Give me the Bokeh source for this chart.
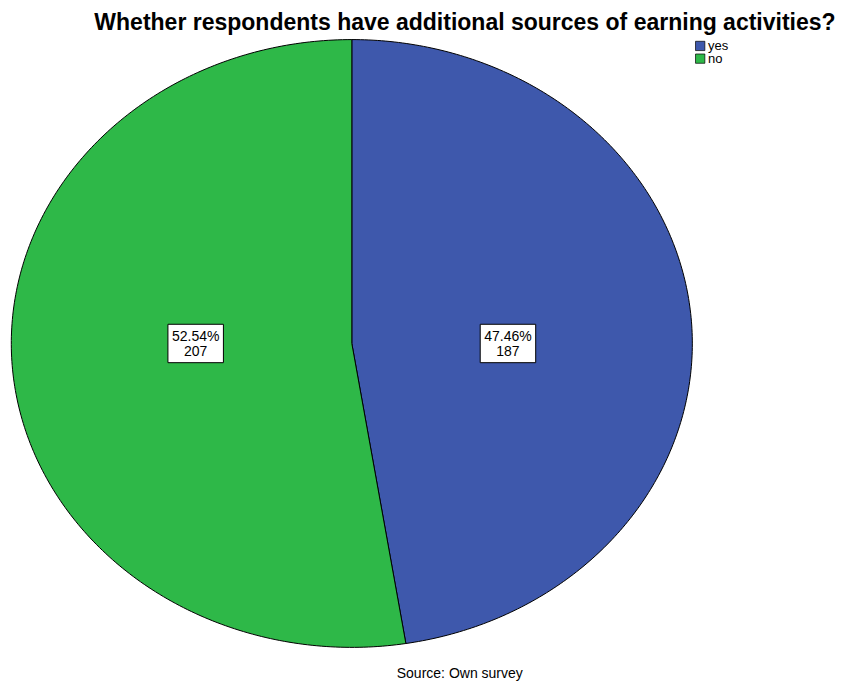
import numpy as np
from bokeh.plotting import figure
from bokeh.models import Range1d, ColumnDataSource, Label
from bokeh.core.properties import value
from bokeh.embed import file_html
from bokeh.resources import INLINE

# data
categories = ["yes", "no"]
counts = [187, 207]
percents = ["47.46%", "52.54%"]
colors = ["#3E58AC", "#2EB848"]
title_text = "Whether respondents have additional sources of earning activities?"
source_text = "Source: Own survey"

W, H = 841, 684
p = figure(width=W, height=H, output_backend="svg", toolbar_location=None,
           x_range=Range1d(0, 857), y_range=Range1d(700, 0),
           min_border=0, outline_line_color=None)
p.axis.visible = False
p.grid.visible = False
p.background_fill_color = "white"

cx, cy, rx, ry = 358, 351, 347, 311
total = sum(counts)
xs, ys, lx, ly, labels = [], [], [], [], []
start = 0.0
for c, pct in zip(counts, percents):
    end = start + 2 * np.pi * c / total
    t = np.linspace(start, end, 240)
    xs.append(np.concatenate([[cx], cx + rx * np.sin(t), [cx]]).tolist())
    ys.append(np.concatenate([[cy], cy - ry * np.cos(t), [cy]]).tolist())
    mid = (start + end) / 2
    lx.append(cx + 0.46 * rx * np.sin(mid))
    ly.append(cy)
    labels.append(f"{pct}\n{c}")
    start = end

src = ColumnDataSource(dict(xs=xs, ys=ys, color=colors))
p.patches("xs", "ys", source=src, fill_color="color", line_color="black", line_width=1)

lsrc = ColumnDataSource(dict(x=lx, y=ly, text=labels))
p.text("x", "y", text="text", source=lsrc,
       text_align="center", text_baseline="middle",
       text_font=value("Liberation Sans"), text_font_size="14px",
       text_line_height=0.9, text_color="black",
       background_fill_color="white", border_line_color="black",
       border_line_width=1, padding=4)

# legend
leg = ColumnDataSource(dict(x=[713, 713], y=[46.5, 59.5], color=colors,
                            tx=[721, 721], text=categories))
p.rect("x", "y", width=9.5, height=9.5, source=leg, fill_color="color", line_color="black", line_width=0.7)
p.text("tx", "y", text="text", source=leg, text_font=value("Liberation Sans"),
       text_font_size="13px", text_baseline="middle", text_color="black")

p.add_layout(Label(x=851, y=22, text=title_text, text_align="right", text_baseline="middle",
                   text_font="Liberation Sans", text_font_style="bold", text_font_size="23px",
                   text_color="black"))
p.add_layout(Label(x=468, y=688, text=source_text, text_align="center", text_baseline="middle",
                   text_font="Liberation Sans", text_font_size="14px", text_color="black"))

open("out.html", "w").write(file_html(p, INLINE))
